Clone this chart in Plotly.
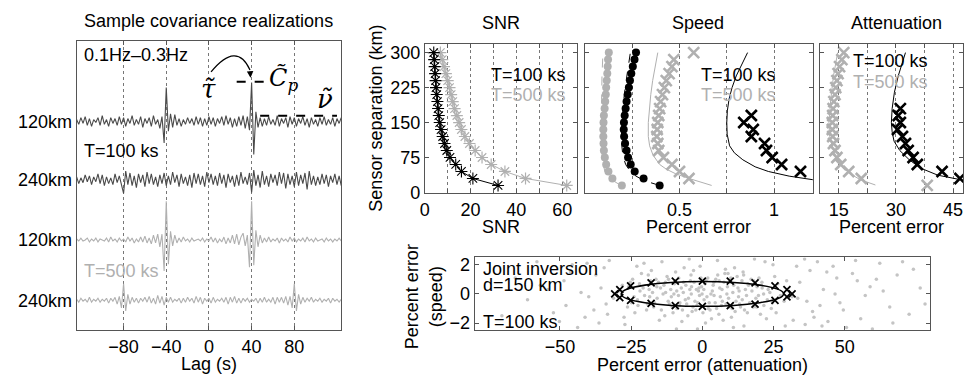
import numpy as np
import plotly.graph_objects as go

W, H = 965, 385
FONT = "Liberation Sans, Arial, Helvetica, sans-serif"
SERIF = "DejaVu Serif, Liberation Serif, serif"
DARK = "#4a4a4a"
LIGHT = "#b0b0b0"

def px(x):
    return x / W

def py(y):
    return 1 - y / H

# ---------------- data: sample covariance realizations ----------------
lag_start, lag_step = -124, 2
trace_labels = ["120km", "240km", "120km", "240km"]
trace_offsets = [-123, -183, -245, -307]

wave_120_T100 = [2,-3,4,-2,5,-4,3,-5,2,-1,4,-4,6,-3,2,-5,4,-2,3,-4,5,-3,
                 4,
                 -5,3,-2,6,-4,2,-3,5,-6,3,-2,4,-5,6,-3,2,-7,5,
                 -22,35,
                 -10,8,-6,7,-4,3,-5,2,-3,4,-2,3,-4,5,-3,4,-5,3,-4,
                 5,
                 -3,4,-5,3,-2,5,-4,6,-3,4,-6,3,-5,5,-4,6,-7,5,-9,
                 40,-34,
                 10,-6,4,-5,3,-4,5,-3,2,-4,6,-5,3,-2,4,-6,5,-3,4,-5,
                 3,-2,5,-4,3,-6,4,-3,2,-5,4,-3,5,-4,2,-3,4,-5,3,-2,4]
wave_240_T100 = [3,-4,2,-3,5,-2,4,-5,3,-2,6,-4,5,-6,3,-4,2,-5,6,-3,4,-6,
                 -14,
                 9,-5,7,-6,4,-8,6,-3,5,-7,
                 8,-4,6,-5,3,-7,5,-4,7,-6,
                 4,-5,8,-3,5,-7,6,-4,3,-6,
                 5,-8,7,-4,6,-5,4,-7,8,-3,
                 6,-5,4,-6,7,-4,5,-8,6,-3,
                 4,-7,5,-6,8,-4,3,-5,7,-13,
                 10,-6,5,-8,9,-5,4,-7,6,-3,
                 5,-6,8,-4,7,-9,6,-5,4,-7,
                 8,-6,5,-4,7,-10,9,-5,4,-6,
                 3,-5,6,-4,5,-7,4,-3,6,-5,
                 4,-6]
wave_120_T500 = [1,-1,2,-1,0,2,-2,1,-1,2,-2,1,0,-1,2,-2,3,-1,1,-2,2,-1,
                 1,
                 -2,3,-1,2,-3,1,-2,3,-2,4,-3,2,-4,5,-3,6,
                 -7,6,
                 -32,40,-25,9,-6,5,-3,
                 2,-2,3,-1,1,-2,2,-1,0,1,-1,2,-2,1,-1,3,-2,2,-3,1,
                 -2,3,-4,2,-3,5,-4,6,-5,3,
                 7,-6,5,-28,40,-26,10,-7,5,-3,
                 2,-2,3,-2,1,-1,2,-3,2,-1,1,-2,3,-1,2,-2,1,-1,2,-2,
                 3,-1,1,-2,2,-1,0,1,-2,2,-1,1,-2,1,-1,2,-1]
wave_240_T500 = [1,-2,2,-1,1,-2,3,-2,1,-1,2,-2,1,-1,2,-3,2,-1,3,-4,
                 4,-8,17,-11,6,-4,3,
                 -2,2,-3,2,-1,3,-2,4,-3,2,
                 -4,5,-3,4,-5,3,-2,3,-2,1,
                 -1,2,-3,2,-2,3,-1,2,-3,4,
                 -2,3,-4,2,-1,2,-3,3,-2,1,
                 -1,2,-2,3,-4,3,-2,4,-3,2,
                 -3,2,-1,2,-2,1,-1,2,-3,2,
                 -2,3,-2,1,-2,3,-4,3,-2,3,
                 -3,4,-5,
                 4,-8,17,-11,6,-4,3,
                 -2,2,-1,3,-2,1,-1,2,-2,1,-1,2,-3,2,-1,1,-2,1]
waves = [wave_120_T100, wave_240_T100, wave_120_T500, wave_240_T500]
wave_colors = [DARK, DARK, LIGHT, LIGHT]
lag_ticks = [-80, -40, 0, 40, 80]

# ---------------- data: SNR / speed / attenuation vs separation ----------------
sep = [15, 30, 45, 60, 75, 90, 105, 120, 135, 150, 165, 180, 195, 210, 225, 240, 255, 270, 285, 300]
snr_T100 = [32, 21, 16, 13.5, 11, 9.6, 8.6, 7.8, 7.1, 6.5, 6.1, 5.8, 5.5, 5.2, 4.9, 4.7, 4.5, 4.3, 4.1, 3.9]
snr_T500 = [62, 44, 35, 29, 25, 22, 19.5, 17.5, 16, 15, 14, 13, 12.2, 11.5, 10.8, 10, 9.2, 8.4, 7.6, 6.8]

speed_circ_T500 = [0.195, 0.145, 0.124, 0.112, 0.105, 0.1, 0.098, 0.097, 0.097, 0.098, 0.1, 0.104, 0.107, 0.11, 0.112, 0.115, 0.118, 0.12, 0.122, 0.126]
speed_circ_T100 = [0.395, 0.31, 0.263, 0.242, 0.228, 0.22, 0.212, 0.207, 0.205, 0.206, 0.21, 0.215, 0.22, 0.226, 0.232, 0.238, 0.245, 0.253, 0.262, 0.27]
speed_dash_T100_sep = [15, 25, 35, 45, 60, 80, 100, 120, 150, 180, 210, 240, 270, 300]
speed_dash_T100 = [0.395, 0.315, 0.27, 0.24, 0.215, 0.2, 0.195, 0.193, 0.195, 0.2, 0.208, 0.218, 0.228, 0.24]
speed_dash_T500_sep = [15, 30, 45, 70, 100, 150, 200, 250, 300]
speed_dash_T500 = [0.19, 0.13, 0.105, 0.092, 0.088, 0.087, 0.088, 0.09, 0.095]
speed_x_T500_sep = [30, 45, 60, 75, 90, 105, 120, 135, 150, 165, 180, 195, 210, 225, 240, 255, 270, 285, 300]
speed_x_T500 = [0.55, 0.5, 0.46, 0.415, 0.39, 0.385, 0.38, 0.382, 0.385, 0.39, 0.395, 0.4, 0.41, 0.42, 0.43, 0.445, 0.46, 0.47, 0.575]
speed_line_T500_sep = [15, 22, 30, 40, 50, 60, 80, 100, 120, 150, 180, 210, 240, 270, 300]
speed_line_T500 = [0.67, 0.61, 0.55, 0.48, 0.43, 0.395, 0.36, 0.342, 0.335, 0.335, 0.34, 0.348, 0.358, 0.37, 0.385]
speed_x_T100_sep = [45, 60, 75, 90, 105, 120, 135, 150, 165]
speed_x_T100 = [1.14, 1.04, 0.99, 0.96, 0.95, 0.88, 0.89, 0.84, 0.88]
speed_line_T100_sep = [27, 35, 45, 55, 70, 85, 100, 125, 150, 175, 200, 225, 250, 275, 300]
speed_line_T100 = [1.21, 1.08, 0.97, 0.9, 0.835, 0.79, 0.765, 0.752, 0.75, 0.753, 0.762, 0.778, 0.8, 0.83, 0.86]

att_x_T500 = [38.2, 20.9, 17.6, 15.5, 14.5, 14.0, 13.6, 13.4, 13.3, 13.3, 13.4, 13.5, 13.7, 14.0, 14.2, 14.5, 14.8, 15.2, 15.8, 16.3]
att_line_T500_sep = [16, 27, 40, 55, 75, 95, 120, 150, 200, 250, 300]
att_line_T500 = [24.6, 20.7, 18.0, 16.0, 14.3, 13.4, 12.6, 12.4, 12.9, 13.6, 14.7]
att_x_T100_sep = [30, 45, 60, 75, 90, 105, 120, 135, 150, 165, 180]
att_x_T100 = [46.8, 42.1, 35.6, 34.5, 33.2, 32.5, 31.7, 30.4, 31.15, 30.6, 31.15]
att_line_T100_sep = [24, 29, 37, 52, 70, 90, 110, 130, 150, 180, 215, 250, 283, 300]
att_line_T100 = [49, 46, 41, 36.5, 33.5, 31, 29.5, 29, 28.8, 29, 29.6, 30.6, 31.9, 32.5]

# ---------------- data: joint inversion ----------------
ellipse_a, ellipse_b = 28.5, 0.85
joint_x = [-30.8, -29.0, -29.0, -25.2, -25.2, -18.0, -18.0, -9.5, -9.5, 0, 0, 9.8, 9.8, 18.5, 18.5, 25.5, 25.5, 29.7, 29.7, 31.5]
joint_y = [0, 0.3, -0.25, 0.55, -0.45, 0.75, -0.65, 0.87, -0.8, 0.87, -0.85, 0.87, -0.8, 0.75, -0.7, 0.55, -0.45, 0.3, -0.2, 0]
dots_x = [-2.1,4.5,-8.3,12.7,-15.4,7.9,-3.6,19.2,-22.8,1.3,-11.6,25.4,-6.7,15.8,-28.1,9.4,-17.9,3.2,-0.8,21.6,
          -13.2,6.1,-24.5,11.3,-4.9,17.4,-9.8,28.7,-19.6,0.6,13.9,-7.2,23.1,-26.3,5.4,-1.9,-14.7,10.2,-21.4,18.8,
          -5.8,2.7,-10.9,26.5,-16.8,8.6,-29.4,14.3,-3.1,20.4,-12.4,4.1,-23.7,16.2,-8.9,31.5,-0.3,11.8,-18.2,7.3,
          -6.4,24.2,-25.9,1.9,-15.1,13.1,-2.6,19.9,-20.3,9.9,-11.1,29.6,-27.5,5.8,-4.2,15.1,-9.4,22.5,-17.1,3.8,
          -13.8,27.4,-7.9,12.2,-22.1,0.2,17.9,-5.1,8.1,-31.2,10.7,-1.4,-19.0,21.0,-10.3,6.7,-24.9,14.8,-3.9,25.9,
          34.2,38.7,42.5,45.9,36.1,48.3,52.7,40.4,55.6,33.5,44.1,58.9,62.3,47.2,37.8,65.8,50.6,41.3,68.4,35.9,
          57.2,72.6,46.6,39.2,61.1,53.8,76.5,43.7,66.9,33.1,49.5,59.7,70.3,36.7,54.4,78.2,42.0,63.5,31.9,74.1,
          -33.8,-37.4,-41.2,-35.6,-45.7,-39.9,-48.6,-52.3,-34.5,-43.8,-56.9,-38.1,-61.4,-46.3,-32.7,-50.2,-65.7,-42.6,-36.3,-58.1,
          -47.9,-70.4,-40.5,-54.2,-33.3,
          -20.5,5.3,14.6,-9.1,24.8,-27.2,1.1,18.3,-14.2,29.1,-4.6,10.9,-23.0,22.0,-1.7,
          -1.0,3.5,-6.0,8.8,-12.9,16.6,-18.7,0.9,-3.3,6.3,-9.6,12.5,-15.9,19.7,-21.9,2.4,-7.4,10.4,-13.5,23.7,
          -0.5,5.0,-4.4,14.0,-10.6,17.1,-24.0,7.6,-16.3,1.6,-2.9,11.0,-8.4,20.9,-19.3,4.7,-5.5,13.4,-12.0,9.2,
          -0.1,2.1,-3.8,6.9,-11.9,15.5,-7.0,18.0,-20.8,24.6,-1.6,8.3,-14.4,4.0,-9.0,12.9,-17.5,22.8,-25.3,0.5,
          -6.6,10.0,-2.3,16.0,-22.6,7.0,-13.0,3.0,-8.0,19.0,-4.0,11.5,-16.0,5.9,-10.0,14.5,-1.2,21.5,-18.5,9.0]
dots_y = [0.3,-0.6,1.1,-0.2,0.8,1.4,-1.2,0.5,-0.4,0.9,-0.7,1.2,0.1,-1.3,0.6,-0.9,1.6,-1.7,1.9,-0.8,
          -1.5,0.4,1.0,1.8,-0.3,0.2,0.7,-0.5,-1.1,-0.4,0.9,-1.9,0.3,-0.9,1.3,-0.8,0.4,-1.6,1.4,-0.3,
          0.6,-1.1,-0.2,0.7,-0.6,0.0,0.2,1.5,1.6,-1.4,1.2,-0.1,-1.3,0.6,-1.0,-0.2,0.5,-0.5,0.9,-1.8,
          1.8,-1.0,0.5,1.1,-1.8,-0.7,-0.5,1.1,-0.1,0.8,0.3,0.9,-1.6,-1.4,0.9,0.3,1.5,-1.7,-0.9,0.6,
          0.0,-0.1,-0.6,1.2,0.7,-1.3,-0.9,-1.5,1.7,-0.3,0.1,0.2,1.3,0.4,-1.3,-0.8,-0.6,-1.1,0.0,-1.3,
          0.8,-1.2,0.3,1.9,-2.1,-0.6,1.4,2.2,-1.7,-0.3,-1.9,0.5,2.1,1.1,1.6,-0.9,-2.3,-0.8,1.3,2.4,
          -0.1,-1.4,0.0,-1.6,1.0,2.3,0.4,1.5,-2.0,1.9,-1.1,-2.4,2.2,-0.5,0.9,-0.7,-2.2,0.2,-1.8,1.7,
          -0.7,1.3,-1.6,0.4,2.0,-0.2,0.9,-1.3,1.8,-2.3,0.6,-1.1,-0.4,1.5,2.3,-1.9,1.1,0.1,-2.0,2.2,
          -0.8,-1.5,2.1,0.3,-1.4,
          2.1,2.3,-2.2,-2.4,2.0,-2.1,-2.0,2.4,2.2,-2.2,2.4,-2.3,1.9,2.2,-2.4,
          -0.1,0.2,-0.4,0.5,0.1,-0.6,0.3,0.7,-0.9,-0.2,0.9,0.4,-0.3,-0.1,0.2,-0.6,0.4,-1.0,0.6,0.1,
          1.1,-1.0,0.3,-0.4,-0.9,1.0,-0.2,0.8,1.0,-0.2,0.8,0.6,-0.1,0.8,-0.7,1.0,-0.7,-0.9,-0.5,-0.3,
          0.0,-1.0,0.5,0.3,1.0,-0.1,-1.1,0.9,0.4,-0.6,-0.6,-0.7,-1.1,0.8,0.2,0.2,0.1,-0.4,0.8,0.3,
          0.8,1.1,-1.1,0.7,-0.8,-0.5,0.8,0.0,-0.8,-0.9,1.3,-1.2,0.5,0.9,0.0,1.3,0.4,0.0,-0.2,1.4]

# ---------------- figure ----------------
fig = go.Figure()

# left panel waveforms
for vals, off, col in zip(waves, trace_offsets, wave_colors):
    lags = lag_start + lag_step * np.arange(len(vals))
    fig.add_trace(go.Scatter(x=lags, y=np.array(vals) + off, mode="lines",
                             line=dict(color=col, width=1.1), xaxis="x", yaxis="y",
                             showlegend=False, hoverinfo="skip"))

def xmark(color, size=11, width=2.6):
    return dict(symbol="x-thin", size=size, color=color, line=dict(color=color, width=width))

# SNR panel
fig.add_trace(go.Scatter(x=snr_T500, y=sep, mode="lines+markers", xaxis="x2", yaxis="y2",
                         line=dict(color=LIGHT, width=1),
                         marker=dict(symbol="asterisk", size=10, color=LIGHT, line=dict(color=LIGHT, width=1.2)),
                         showlegend=False))
fig.add_trace(go.Scatter(x=snr_T100, y=sep, mode="lines+markers", xaxis="x2", yaxis="y2",
                         line=dict(color="black", width=1),
                         marker=dict(symbol="asterisk", size=10, color="black", line=dict(color="black", width=1.1)),
                         showlegend=False))
fig.add_trace(go.Scatter(x=snr_T100, y=sep, mode="markers", xaxis="x2", yaxis="y2",
                         marker=dict(size=3, color="black"), showlegend=False))

# Speed panel
fig.add_trace(go.Scatter(x=speed_dash_T500, y=speed_dash_T500_sep, mode="lines", xaxis="x3", yaxis="y3",
                         line=dict(color=LIGHT, width=1, dash="dash"), showlegend=False))
fig.add_trace(go.Scatter(x=speed_circ_T500, y=sep, mode="markers", xaxis="x3", yaxis="y3",
                         marker=dict(size=8, color=LIGHT), showlegend=False))
fig.add_trace(go.Scatter(x=speed_dash_T100, y=speed_dash_T100_sep, mode="lines", xaxis="x3", yaxis="y3",
                         line=dict(color="black", width=1, dash="dash"), showlegend=False))
fig.add_trace(go.Scatter(x=speed_circ_T100, y=sep, mode="markers", xaxis="x3", yaxis="y3",
                         marker=dict(size=8, color="black"), showlegend=False))
fig.add_trace(go.Scatter(x=speed_line_T500, y=speed_line_T500_sep, mode="lines", xaxis="x3", yaxis="y3",
                         line=dict(color=LIGHT, width=1), showlegend=False))
fig.add_trace(go.Scatter(x=speed_x_T500, y=speed_x_T500_sep, mode="markers", xaxis="x3", yaxis="y3",
                         marker=xmark(LIGHT), showlegend=False))
fig.add_trace(go.Scatter(x=speed_line_T100, y=speed_line_T100_sep, mode="lines", xaxis="x3", yaxis="y3",
                         line=dict(color="black", width=1), showlegend=False))
fig.add_trace(go.Scatter(x=speed_x_T100, y=speed_x_T100_sep, mode="markers", xaxis="x3", yaxis="y3",
                         marker=xmark("black"), showlegend=False))

# Attenuation panel
fig.add_trace(go.Scatter(x=att_line_T500, y=att_line_T500_sep, mode="lines", xaxis="x4", yaxis="y4",
                         line=dict(color=LIGHT, width=1), showlegend=False))
fig.add_trace(go.Scatter(x=att_x_T500, y=sep, mode="markers", xaxis="x4", yaxis="y4",
                         marker=xmark(LIGHT), showlegend=False))
fig.add_trace(go.Scatter(x=att_line_T100, y=att_line_T100_sep, mode="lines", xaxis="x4", yaxis="y4",
                         line=dict(color="black", width=1), showlegend=False))
fig.add_trace(go.Scatter(x=att_x_T100, y=att_x_T100_sep, mode="markers", xaxis="x4", yaxis="y4",
                         marker=xmark("black"), showlegend=False))

# Joint inversion panel
fig.add_trace(go.Scatter(x=dots_x, y=dots_y, mode="markers", xaxis="x5", yaxis="y5",
                         marker=dict(size=3.5, color="#c4c4c4"), showlegend=False))
fig.add_trace(go.Scatter(x=joint_x, y=joint_y, mode="markers", xaxis="x5", yaxis="y5",
                         marker=xmark("black", size=7, width=1.8), showlegend=False))
fig.add_shape(type="circle", xref="x5", yref="y5", x0=-ellipse_a, x1=ellipse_a,
              y0=-ellipse_b, y1=ellipse_b, line=dict(color="black", width=1.6))

# ---------------- axes ----------------
base = dict(showline=True, linecolor="#555", linewidth=1, mirror="ticks", ticks="inside",
            ticklen=4, tickcolor="#555", zeroline=False, showgrid=False,
            tickfont=dict(size=18, color="black", family=FONT))
grid = dict(showgrid=True, griddash="dot", gridcolor="#777", gridwidth=1)

sep_ticks = [0, 75, 150, 225, 300]
ysep = dict(base, range=[-2, 319], tickvals=sep_ticks, domain=[py(197), py(43)])

layout = dict(
    width=W, height=H, margin=dict(l=0, r=0, t=0, b=0),
    paper_bgcolor="white", plot_bgcolor="white",
    font=dict(family=FONT, size=18, color="black"),
    showlegend=False,
    xaxis=dict(base, **grid, domain=[px(72), px(338)], range=[-124, 124], tickvals=lag_ticks, anchor="y"),
    yaxis=dict(base, domain=[py(338), py(40)], range=[-338, -40], tickvals=trace_offsets,
               ticktext=trace_labels, ticks="", mirror=True, anchor="x"),
    xaxis2=dict(base, **grid, domain=[px(422), px(575)], range=[0, 66.5],
                tickvals=[0, 10, 20, 30, 40, 50, 60], ticktext=["0", "", "20", "", "40", "", "60"], anchor="y2"),
    yaxis2=dict(ysep, anchor="x2"),
    xaxis3=dict(base, **grid, domain=[px(583), px(812)], range=[0, 1.205],
                tickvals=[0, 0.25, 0.5, 0.75, 1], ticktext=["", "", "0.5", "", "1"], anchor="y3"),
    yaxis3=dict(ysep, anchor="x3", showticklabels=False),
    xaxis4=dict(base, **grid, domain=[px(819), px(963)], range=[10, 47.6],
                tickvals=[15, 22.5, 30, 37.5, 45], ticktext=["15", "", "30", "", "45"], anchor="y4"),
    yaxis4=dict(ysep, anchor="x4", showticklabels=False),
    xaxis5=dict(base, domain=[px(472), px(930)], range=[-80, 80], tickvals=[-50, -25, 0, 25, 50], anchor="y5"),
    yaxis5=dict(base, domain=[py(338), py(263)], range=[-2.5, 2.5], tickvals=[-2, 0, 2], anchor="x5"),
)
fig.update_layout(**layout)

# ---------------- annotations ----------------
ann = []
def txt(x, y, s, size=18, color="black", xanchor="center", angle=0, family=FONT):
    ann.append(dict(x=px(x), y=py(y), xref="paper", yref="paper", text=s, showarrow=False,
                    xanchor=xanchor, yanchor="middle", textangle=angle,
                    font=dict(size=size, color=color, family=family)))

txt(205, 20, "Sample covariance realizations")
txt(499, 22, "SNR")
txt(697, 22, "Speed")
txt(896, 22, "Attenuation")
txt(205, 373, "Lag (s)")
txt(499, 232, "SNR")
txt(697, 232, "Percent error")
txt(891, 232, "Percent error")
txt(372, 120, "Sensor separation (km)", angle=-90)
txt(421, 303, "Percent error<br>(speed)", angle=-90)
txt(701, 374, "Percent error (attenuation)")

txt(77, 55, "0.1Hz–0.3Hz", xanchor="left")
txt(77, 153, "T=100 ks", xanchor="left")
txt(77, 277, "T=500 ks", color=LIGHT, xanchor="left")
txt(205, 90, "<i>τ̃</i>", size=26, family=SERIF)
txt(263, 80, "<i>C̃</i><sub><i>p</i></sub>", size=24, family=SERIF, xanchor="left")
txt(322, 100, "<i>ν̃</i>", size=26, family=SERIF)

txt(487, 75, "T=100 ks", xanchor="left")
txt(487, 96, "T=500 ks", color=LIGHT, xanchor="left")
txt(698, 75, "T=100 ks", xanchor="left")
txt(698, 96, "T=500 ks", color=LIGHT, xanchor="left")
txt(850, 61, "T=100 ks", xanchor="left")
txt(850, 82, "T=500 ks", color=LIGHT, xanchor="left")

txt(478, 275, "Joint inversion", xanchor="left")
txt(478, 291, "d=150 km", xanchor="left")
txt(478, 329, "T=100 ks", xanchor="left")

# arrow head from tau to Cp
ann.append(dict(x=39, y=-78, xref="x", yref="y", ax=38.5, ay=-70, axref="x", ayref="y",
                showarrow=True, arrowhead=2, arrowsize=1, arrowwidth=1.3, arrowcolor="black", text=""))
fig.update_layout(annotations=ann)

# curved arrow and dashed level markers (left panel)
fig.add_shape(type="path", xref="x", yref="y", path="M 2,-72 Q 26,-40 38.5,-70",
              line=dict(color="black", width=1.3))
fig.add_shape(type="line", xref="x", yref="y", x0=26, x1=54, y0=-82, y1=-82,
              line=dict(color="black", width=2, dash="dash"))
fig.add_shape(type="line", xref="x", yref="y", x0=48, x1=120, y0=-117, y1=-117,
              line=dict(color="black", width=2, dash="dash"))

fig.write_html("out.html", config={"displayModeBar": False},
               post_script="document.body.style.margin='0px';")
